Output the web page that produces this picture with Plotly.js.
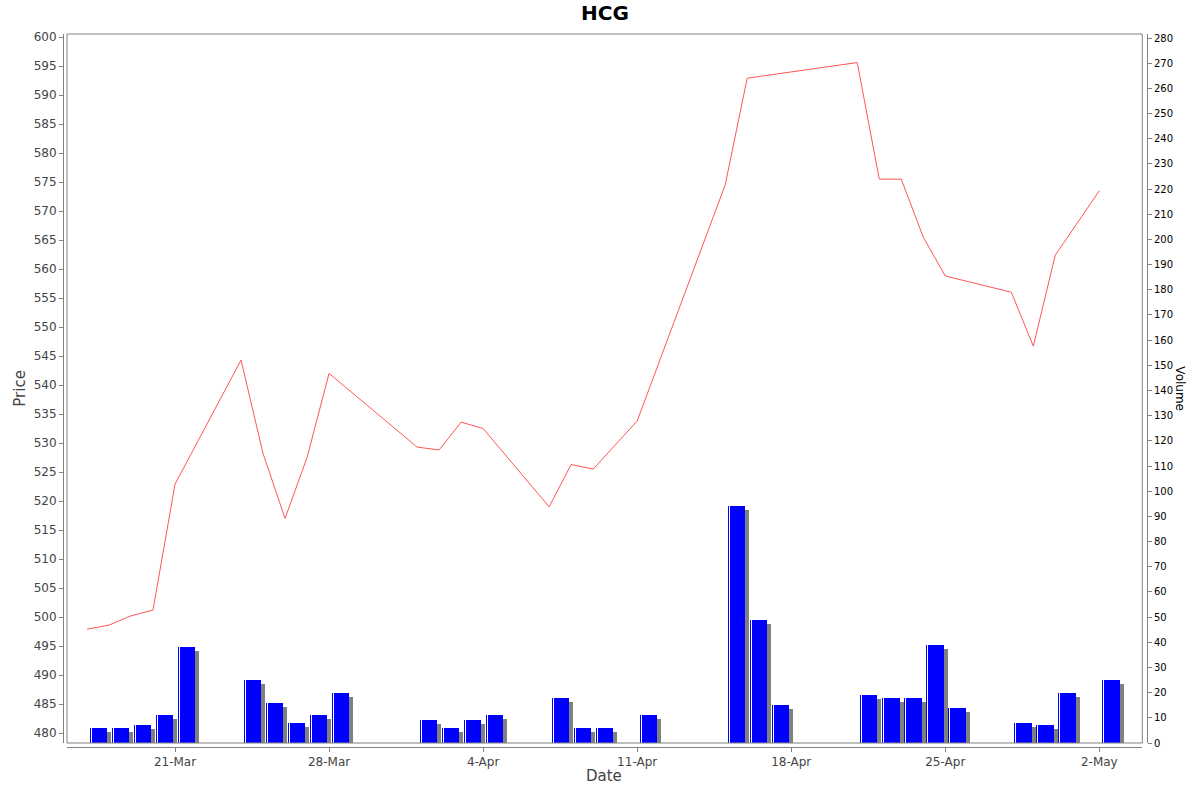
<!DOCTYPE html>
<html>
<head>
<meta charset="utf-8">
<script src="https://cdn.plot.ly/plotly-3.0.1.min.js"></script>
<style>
  body { margin: 0; background: #fff; }
  #myDiv { width: 1200px; height: 792px; }
</style>
</head>
<body>
<div id="myDiv"></div>
<script>
// trading days shown on the chart
var dates = ['2025-03-17', '2025-03-18', '2025-03-19', '2025-03-20', '2025-03-21',
             '2025-03-24', '2025-03-25', '2025-03-26', '2025-03-27', '2025-03-28',
             '2025-04-01', '2025-04-02', '2025-04-03', '2025-04-04',
             '2025-04-07', '2025-04-08', '2025-04-09', '2025-04-11',
             '2025-04-15', '2025-04-16', '2025-04-17',
             '2025-04-21', '2025-04-22', '2025-04-23', '2025-04-24', '2025-04-25',
             '2025-04-28', '2025-04-29', '2025-04-30', '2025-05-02'];

// closing price (no point drawn for 17-Apr)
var price = [497.9, 498.6, 500.2, 501.2, 522.9,
             544.3, 528.2, 517.0, 527.5, 542.0,
             529.3, 528.8, 533.6, 532.5,
             519.0, 526.3, 525.5, 533.8,
             574.5, 592.9, null,
             595.6, 575.5, 575.5, 565.5, 558.8,
             556.0, 546.7, 562.4, 573.5];

var volume = [6, 6, 7, 11, 38,
              25, 16, 8, 11, 20,
              9, 6, 9, 11,
              18, 6, 6, 11,
              94, 49, 15,
              19, 18, 18, 39, 14,
              8, 7, 20, 25];

const DAY = 86400000;
const PX_DAY = 22.007;      // pixels per day on the x axis
const PX_VOL = 2.518;       // pixels per volume unit
const px = n => n / PX_DAY * DAY;

var barOffset = 0.12 * DAY;
var barWidth = 0.8 * DAY;

var shadow = {
  x: dates, y: volume.map(v => v - 4 / PX_VOL),
  type: 'bar', yaxis: 'y2',
  offset: barOffset + px(4), width: barWidth,
  marker: { color: '#808080', line: { width: 0 } },
  hoverinfo: 'skip', showlegend: false
};

var bars = {
  x: dates, y: volume,
  type: 'bar', yaxis: 'y2',
  offset: barOffset, width: barWidth,
  marker: { color: '#0000ff', line: { width: 0 } },
  name: 'Volume', showlegend: false
};

// thin highlight stripe at the left edge of each bar
var stripe = {
  x: dates, y: volume,
  type: 'bar', yaxis: 'y2',
  offset: barOffset + px(1.2), width: px(1.2),
  marker: { color: '#ffffff', line: { width: 0 } },
  hoverinfo: 'skip', showlegend: false
};

var line = {
  x: dates, y: price,
  type: 'scatter', mode: 'lines', connectgaps: true,
  line: { color: 'rgb(255,85,85)', width: 1 },
  name: 'Price', showlegend: false
};

var data = [line, shadow, bars, stripe];

var axisGray = '#808080';
var font = 'DejaVu Sans, Liberation Sans, sans-serif';

var layout = {
  width: 1200, height: 792,
  margin: { l: 63, r: 53, t: 34, b: 45 },
  paper_bgcolor: '#fff', plot_bgcolor: '#fff',
  barmode: 'overlay', bargap: 0,
  font: { family: font, color: '#444' },
  title: {
    text: '<b>HCG</b>',
    font: { family: font, size: 20, color: '#000' },
    xref: 'paper', x: 0.5, yref: 'container', y: 1 - 13 / 792, yanchor: 'middle'
  },
  xaxis: {
    type: 'date',
    domain: [4 / 1084, 1079.3 / 1084],
    anchor: 'free', position: 0,
    range: ['2025-03-16 02:13', '2025-05-03 22:52'],
    tick0: '2025-03-21', dtick: 7 * DAY, tickformat: '%-d-%b',
    showgrid: false, zeroline: false,
    showline: true, linecolor: axisGray, linewidth: 1,
    ticks: 'outside', ticklen: 4, tickcolor: axisGray,
    tickfont: { family: font, size: 12, color: '#444' }
  },
  yaxis: {
    domain: [4 / 713, 1],
    anchor: 'free', position: 0,
    range: [478.28, 600.52],
    dtick: 5, tick0: 480,
    showgrid: false, zeroline: false,
    showline: true, linecolor: axisGray, linewidth: 1,
    ticks: 'outside', ticklen: 4, tickcolor: axisGray,
    tickfont: { family: font, size: 12, color: '#444' }
  },
  yaxis2: {
    overlaying: 'y', side: 'right',
    anchor: 'free', position: 1,
    range: [0, 281.6],
    dtick: 10, tick0: 0,
    showgrid: false, zeroline: false,
    showline: true, linecolor: axisGray, linewidth: 1,
    ticks: 'outside', ticklen: 4, tickcolor: axisGray,
    tickfont: { family: font, size: 10, color: '#000' }
  },
  shapes: [{
    type: 'rect', xref: 'x domain', yref: 'y domain',
    x0: 0, x1: 1, y0: 0, y1: 1,
    line: { color: axisGray, width: 1 }, layer: 'above'
  }],
  annotations: [
    { text: 'Date', xref: 'paper', yref: 'paper', x: 0.4995, y: -29 / 713,
      xanchor: 'center', yanchor: 'middle', showarrow: false,
      font: { family: font, size: 15, color: '#444' } },
    { text: 'Price', xref: 'paper', yref: 'paper', x: -43 / 1084, y: 0.5025,
      xanchor: 'center', yanchor: 'middle', showarrow: false, textangle: -90,
      font: { family: font, size: 15, color: '#444' } },
    { text: 'Volume', xref: 'paper', yref: 'paper', x: 1117 / 1084, y: 0.503,
      xanchor: 'center', yanchor: 'middle', showarrow: false, textangle: 90,
      font: { family: font, size: 12, color: '#000' } }
  ]
};

Plotly.newPlot('myDiv', data, layout, { displayModeBar: false, staticPlot: true });
</script>
</body>
</html>
